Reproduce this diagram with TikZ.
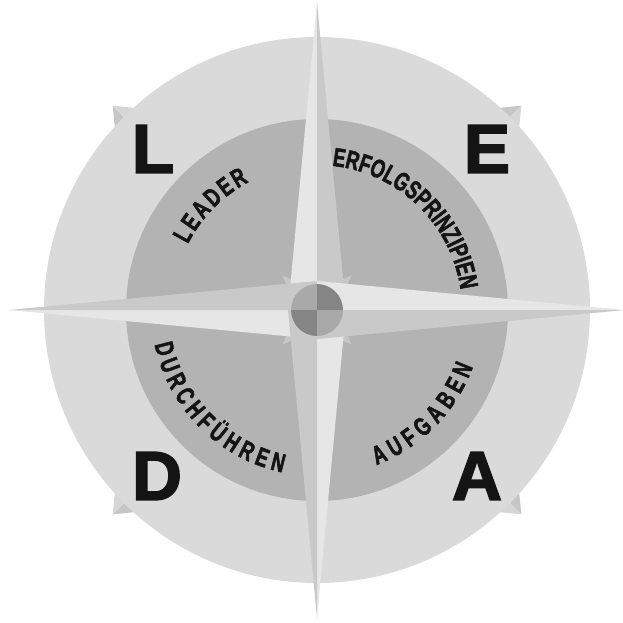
\documentclass[tikz,border=0pt]{standalone}
\usepackage{fontspec}
\setmainfont{Liberation Sans}
\newfontfamily\labfont[FakeStretch=0.7, FakeBold=2]{Liberation Sans Bold}
\newfontfamily\capfont[FakeBold=2.5]{Liberation Sans Bold}
\usetikzlibrary{decorations.text}
\definecolor{ink}{HTML}{141414}
\definecolor{ringout}{HTML}{DADADA}
\definecolor{ringin}{HTML}{B3B3B3}
\definecolor{armlt}{HTML}{E6E6E6}
\definecolor{armdk}{HTML}{C9C9C9}
\definecolor{spklt}{HTML}{D6D6D6}
\definecolor{spkdk}{HTML}{C6C6C6}
\definecolor{hublt}{HTML}{A9A9A9}
\definecolor{hubdk}{HTML}{858585}

\begin{document}
\begin{tikzpicture}[x=1pt, y=1pt,
  letter/.style={font=\capfont\fontsize{69}{69}\selectfont, text=ink, inner sep=0pt},
  ringtext/.style={decorate, decoration={text along path, text align={fit to path}, text color=ink}}]
  \useasboundingbox (-317,-312) rectangle (306,310);
  % diagonal points behind the rings
  \foreach \a in {45,135,225,315}{
    \fill[spkdk, rotate=\a] (240,0) -- (289,0) -- (240,40) -- cycle;
    \fill[spklt, rotate=\a] (240,0) -- (289,0) -- (240,-40) -- cycle;
  }
  \fill[ringout] (0,0) circle[radius=273pt];
  \fill[ringin] (0,0) circle[radius=191pt];
  % short diagonal points
  \foreach \a in {45,135,225,315}
    \fill[spkdk, rotate=\a] (20,11) -- (49,0) -- (20,-11) -- cycle;
  % main points
  \foreach \a in {0,90,180,270}{
    \fill[armlt, rotate=\a] (0,0) -- (0,308) -- (-29,0) -- cycle;
    \fill[armdk, rotate=\a] (0,0) -- (0,308) -- (29,0) -- cycle;
  }
  % hub
  \fill[hublt] (0,0) -- (90:26pt) arc[start angle=90, end angle=180, radius=26pt] -- cycle;
  \fill[hubdk] (0,0) -- (0:26pt) arc[start angle=0, end angle=90, radius=26pt] -- cycle;
  \fill[hubdk] (0,0) -- (180:26pt) arc[start angle=180, end angle=270, radius=26pt] -- cycle;
  \fill[hublt] (0,0) -- (270:26pt) arc[start angle=270, end angle=360, radius=26pt] -- cycle;
  % ring labels
  \path[ringtext, decoration={text={|\labfont\fontsize{26}{26}\selectfont|LEADER}}]
    (153:145pt) arc[start angle=153, end angle=118, radius=145pt];
  \path[ringtext, decoration={text={|\labfont\fontsize{26}{26}\selectfont|ERFOLGSPRINZIPIEN}}]
    (84:145pt) arc[start angle=84, end angle=8, radius=145pt];
  \path[ringtext, decoration={text={|\labfont\fontsize{26}{26}\selectfont|DURCHFÜHREN}}]
    (192:166pt) arc[start angle=192, end angle=258, radius=166pt];
  \path[ringtext, decoration={text={|\labfont\fontsize{26}{26}\selectfont|AUFGABEN}}]
    (291:166pt) arc[start angle=291, end angle=340, radius=166pt];
  % corner letters
  \node[letter] (L) at (-164,161) {L};
  \node[letter] (E) at (170,161) {E};
  \node[letter] (D) at (-160,-166) {D};
  \node[letter] (A) at (160,-166) {A};
\end{tikzpicture}
\end{document}
